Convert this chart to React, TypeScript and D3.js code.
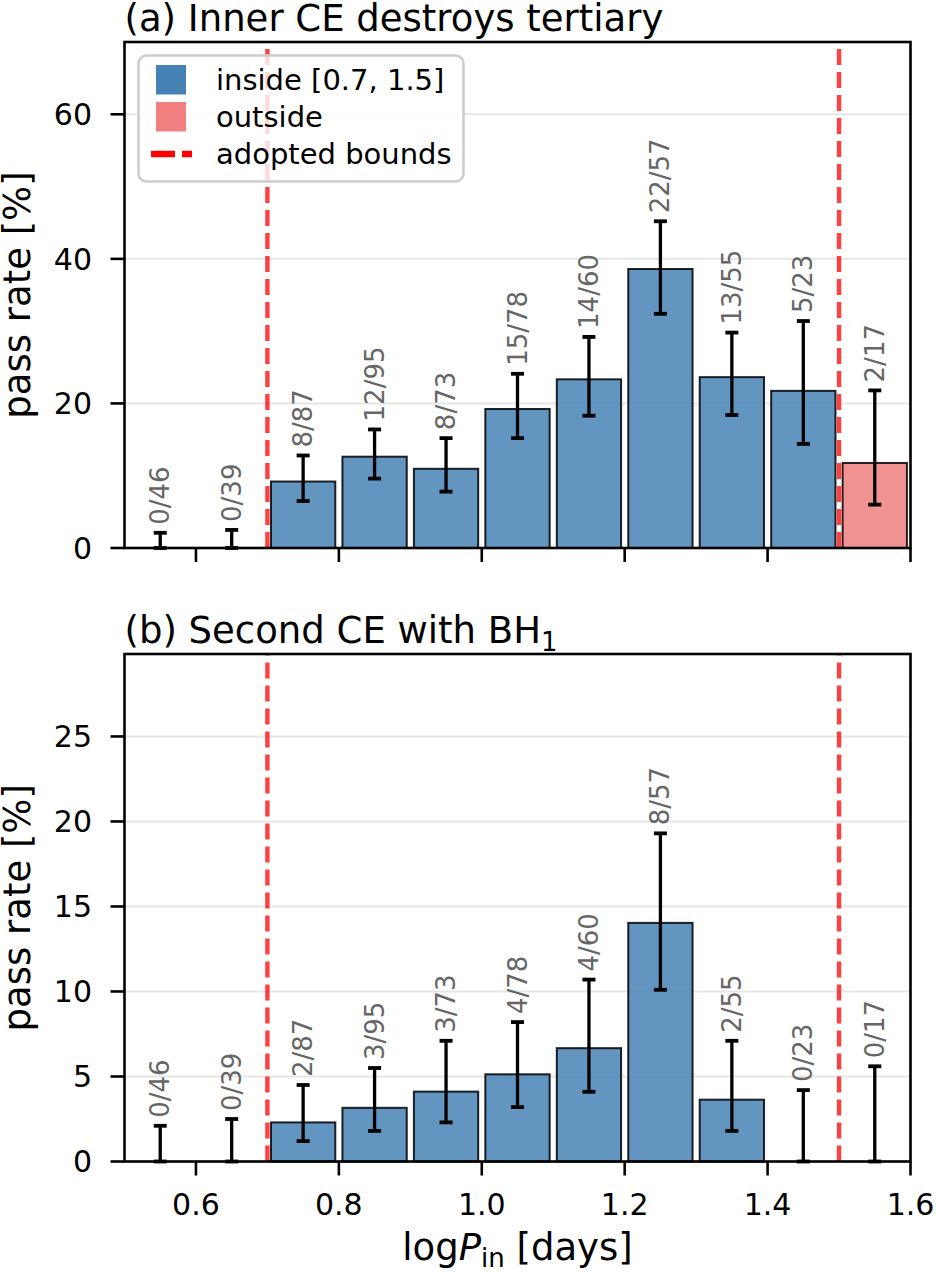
import React from 'react';
import * as d3 from 'd3';

// bins of log P_in (days), width 0.1
const binCenters = [0.55, 0.65, 0.75, 0.85, 0.95, 1.05, 1.15, 1.25, 1.35, 1.45, 1.55];
const totals = [46, 39, 87, 95, 73, 78, 60, 57, 55, 23, 17];

// (a) inner CE destroys tertiary
const passA = [0, 0, 8, 12, 8, 15, 14, 22, 13, 5, 2];
const lowA = [0, 0, 6.5, 9.6, 7.8, 15.2, 18.3, 32.4, 18.4, 14.4, 6.0];
const highA = [2.1, 2.5, 12.8, 16.4, 15.2, 24.1, 29.2, 45.2, 29.8, 31.4, 21.8];

// (b) second CE with BH1
const passB = [0, 0, 2, 3, 3, 4, 4, 8, 2, 0, 0];
const lowB = [0, 0, 1.2, 1.8, 2.3, 3.2, 4.1, 10.1, 1.8, 0, 0];
const highB = [2.1, 2.5, 4.5, 5.5, 7.1, 8.2, 10.7, 19.3, 7.1, 4.2, 5.6];

const bounds = [0.7, 1.5];
const xTicks = [0.6, 0.8, 1.0, 1.2, 1.4, 1.6];
const yTicksA = [0, 20, 40, 60];
const yTicksB = [0, 5, 10, 15, 20, 25];

const W = 937;
const H = 1276;
const FONT = 'DejaVu Sans, sans-serif';
const BLUE = '#4682b4';
const CORAL = '#f08080';
const left = 124.5;
const right = 910.5;

const x = d3.scaleLinear().domain([0.5, 1.6]).range([left, right]);
const barW = 0.09;

function Panel({ top, bottom, yMax, pass, low, high, yTicks, title, showXLabels, legend }) {
  const y = d3.scaleLinear().domain([0, yMax]).range([bottom, top]);
  const rows = binCenters.map((c, i) => ({
    c,
    k: pass[i],
    n: totals[i],
    rate: (pass[i] / totals[i]) * 100,
    lo: low[i],
    hi: high[i],
    inside: c >= bounds[0] && c <= bounds[1],
  }));
  return (
    <g>
      {/* grid */}
      {yTicks.map((t) => (
        <line key={'g' + t} x1={left} x2={right} y1={y(t)} y2={y(t)} stroke="#e6e6e6" strokeWidth={2} />
      ))}
      {/* bars */}
      {rows.filter((r) => r.k > 0).map((r) => (
        <rect
          key={'b' + r.c}
          x={x(r.c - barW / 2)}
          y={y(r.rate)}
          width={x(r.c + barW / 2) - x(r.c - barW / 2)}
          height={y(0) - y(r.rate)}
          fill={r.inside ? BLUE : CORAL}
          fillOpacity={0.85}
          stroke="#000"
          strokeOpacity={0.85}
          strokeWidth={2}
        />
      ))}
      {/* adopted bounds */}
      {bounds.map((b) => (
        <line key={'v' + b} x1={x(b)} x2={x(b)} y1={bottom} y2={top} stroke="#ff0000" strokeOpacity={0.75}
          strokeWidth={4.4} strokeDasharray="16 7" />
      ))}
      {/* error bars */}
      {rows.map((r) => (
        <g key={'e' + r.c} stroke="#000">
          <line x1={x(r.c)} x2={x(r.c)} y1={y(r.lo)} y2={y(r.hi)} strokeWidth={3.3} />
          <line x1={x(r.c) - 6.5} x2={x(r.c) + 6.5} y1={y(r.hi)} y2={y(r.hi)} strokeWidth={3.8} />
          <line x1={x(r.c) - 6.5} x2={x(r.c) + 6.5} y1={y(r.lo)} y2={y(r.lo)} strokeWidth={3.8} />
        </g>
      ))}
      {/* k/n labels */}
      {rows.map((r) => (
        <text key={'t' + r.c} transform={`translate(${x(r.c)},${y(r.hi) - 8}) rotate(-90)`}
          fontFamily={FONT} fontSize={26} fill="#666" dominantBaseline="central">
          {`${r.k}/${r.n}`}
        </text>
      ))}
      {/* frame */}
      <rect x={left} y={top} width={right - left} height={bottom - top} fill="none" stroke="#000" strokeWidth={2.6} />
      {/* y axis */}
      {yTicks.map((t) => (
        <g key={'y' + t}>
          <line x1={left - 14} x2={left} y1={y(t)} y2={y(t)} stroke="#000" strokeWidth={2.6} />
          <text x={92} y={y(t)} dy="0.36em" textAnchor="end" fontFamily={FONT} fontSize={30}>{t}</text>
        </g>
      ))}
      {/* x axis */}
      {xTicks.map((t) => (
        <g key={'x' + t}>
          <line x1={x(t)} x2={x(t)} y1={bottom} y2={bottom + 14} stroke="#000" strokeWidth={2.6} />
          {showXLabels && (
            <text x={x(t)} y={bottom + 53.5} textAnchor="middle" fontFamily={FONT} fontSize={30}>
              {d3.format('.1f')(t)}
            </text>
          )}
        </g>
      ))}
      <text transform={`translate(30,${(top + bottom) / 2}) rotate(-90)`} textAnchor="middle"
        fontFamily={FONT} fontSize={37}>pass rate [%]</text>
      <text x={left} y={top - 11.5} fontFamily={FONT} fontSize={37}>{title}</text>
      {legend && (
        <g fontFamily={FONT} fontSize={29}>
          <rect x={138.5} y={55.5} width={325} height={126} rx={8} fill="#fff" fillOpacity={0.8}
            stroke="#cccccc" strokeWidth={2.5} />
          <rect x={156} y={65} width={30} height={29.5} fill={BLUE} />
          <rect x={156} y={102} width={30} height={29.5} fill={CORAL} />
          <line x1={151} x2={192} y1={154} y2={154} stroke="#ff0000" strokeWidth={6.5} strokeDasharray="24 7" />
          <text x={216} y={90}>inside [0.7, 1.5]</text>
          <text x={216} y={127.3}>outside</text>
          <text x={216} y={164}>adopted bounds</text>
        </g>
      )}
    </g>
  );
}

export default function App() {
  return (
    <svg width={W} height={H} style={{ position: 'absolute', left: 0, top: 0, background: '#fff' }}>
      <Panel top={42} bottom={548} yMax={70} pass={passA} low={lowA} high={highA} yTicks={yTicksA}
        title="(a) Inner CE destroys tertiary" showXLabels={false} legend />
      <Panel top={654} bottom={1161.5} yMax={29.85} pass={passB} low={lowB} high={highB} yTicks={yTicksB}
        title={<>(b) Second CE with BH<tspan fontSize={26} dy={8}>1</tspan></>} showXLabels legend={false} />
      <text x={(left + right) / 2} y={1260} textAnchor="middle" fontFamily={FONT} fontSize={37}>
        log<tspan fontStyle="italic">P</tspan><tspan fontSize={26} dy={7}>in</tspan>
        <tspan dy={-7}> [days]</tspan>
      </text>
    </svg>
  );
}
